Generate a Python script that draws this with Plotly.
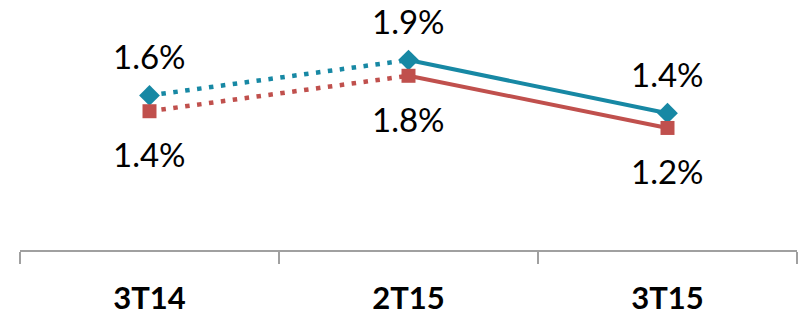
import plotly.graph_objects as go

categories = ["3T14", "2T15", "3T15"]
teal_values = [1.57, 1.93, 1.39]
red_values = [1.41, 1.77, 1.24]

TEAL = "#1788A4"
RED = "#C0504D"
FONT = "Lato"

fig = go.Figure()

def add_series(vals, color, symbol):
    # dotted segment (first two points)
    fig.add_trace(go.Scatter(x=categories[:2], y=vals[:2], mode="lines",
                             line=dict(color=color, width=4.5, dash="4.5px,7.5px"),
                             hoverinfo="skip", showlegend=False))
    # solid segment
    fig.add_trace(go.Scatter(x=categories[1:], y=vals[1:], mode="lines",
                             line=dict(color=color, width=4),
                             hoverinfo="skip", showlegend=False))
    fig.add_trace(go.Scatter(x=categories, y=vals, mode="markers",
                             marker=dict(symbol=symbol, size=14 if symbol == "square" else 16, color=color),
                             showlegend=False))

add_series(teal_values, TEAL, "diamond")
add_series(red_values, RED, "square")

for c, v in zip(categories, teal_values):
    fig.add_annotation(x=c, y=v, text=f"{v:.1f}%", showarrow=False, yshift=39,
                       font=dict(family=FONT, size=33, color="#000000"))
for c, v in zip(categories, red_values):
    fig.add_annotation(x=c, y=v, text=f"{v:.1f}%", showarrow=False, yshift=-43,
                       font=dict(family=FONT, size=33, color="#000000"))

fig.update_layout(
    width=802, height=315,
    margin=dict(l=20, r=5, t=0, b=65),
    paper_bgcolor="white", plot_bgcolor="white",
    showlegend=False,
)
fig.update_xaxes(type="category", range=[-0.5, 2.5], showline=True, linecolor="#A0A0A0",
                 linewidth=1.5, ticks="outside", ticklen=12, tickcolor="#A0A0A0", tickwidth=1.5,
                 tickson="boundaries", showgrid=False, zeroline=False, ticklabelstandoff=20,
                 tickfont=dict(family=FONT, size=31, color="#000000", weight="bold"))
fig.update_yaxes(range=[0, 2.54], visible=False)

fig.write_html("out.html", config={"displayModeBar": False},
               post_script="document.body.style.margin='0';document.body.style.overflow='hidden';")
